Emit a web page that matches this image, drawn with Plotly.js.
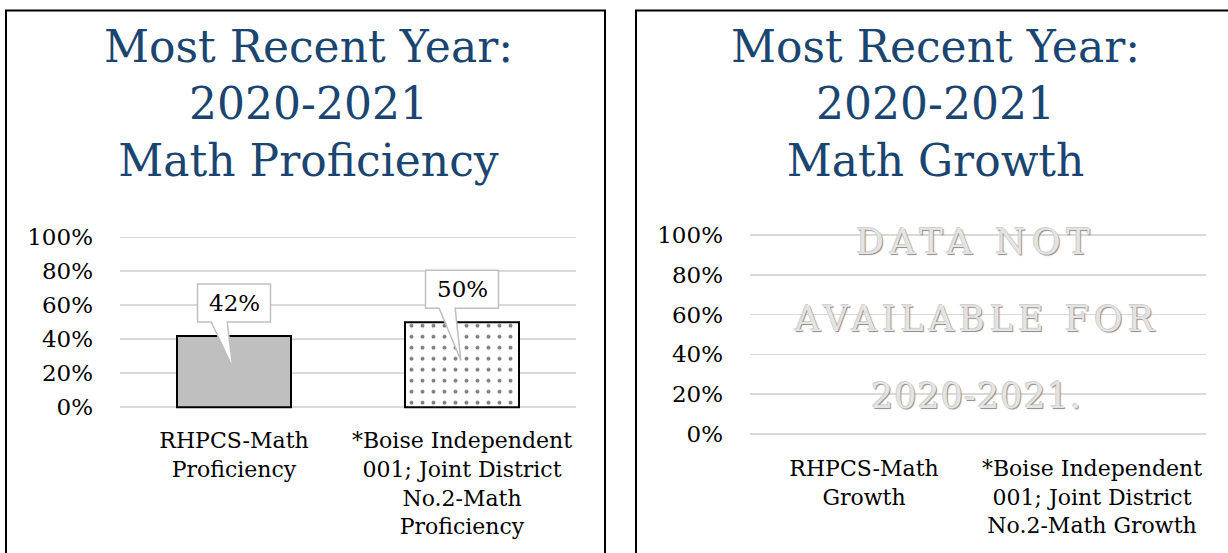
<!DOCTYPE html>
<html>
<head>
<meta charset="utf-8">
<script src="https://cdn.plot.ly/plotly-3.0.1.min.js"></script>
<style>
  html, body { margin: 0; padding: 0; background: #ffffff; }
  #chart { width: 1228px; height: 553px; }
</style>
</head>
<body>
<div id="chart"></div>
<script>
// ---------------- data ----------------
const titleProf = "Most Recent Year:<br>2020-2021<br>Math Proficiency";
const titleGrowth = "Most Recent Year:<br>2020-2021<br>Math Growth";

const categoriesProf = [
  "RHPCS-Math<br>Proficiency",
  "*Boise Independent<br>001; Joint District<br>No.2-Math<br>Proficiency"
];
const valuesProf = [0.42, 0.50];
const labelsProf = ["42%", "50%"];
const barColorsProf = ["#bfbfbf", "#ffffff"];
const barPatternsProf = ["", "."];

const categoriesGrowth = [
  "RHPCS-Math<br>Growth",
  "*Boise Independent<br>001; Joint District<br>No.2-Math Growth"
];
const valuesGrowth = [null, null];

const yTickVals = [0, 0.2, 0.4, 0.6, 0.8, 1.0];
const yTickText = ["0%", "20%", "40%", "60%", "80%", "100%"];

const noDataLines = ["DATA NOT", "AVAILABLE FOR", "2020-2021."];
const noDataSpacing = [6, 5, 1];

// ---------------- layout constants ----------------
const W = 1228, H = 553;
const FONT = "DejaVu Serif";
const TITLE_COLOR = "#1b4571";
const GRID = "#d9d9d9";
const PADR = 0.03; // range pad so the 0% and 100% gridlines are drawn

const idxProf = categoriesProf.map((_, i) => i);
const idxGrowth = categoriesGrowth.map((_, i) => i);

const traces = [];
valuesProf.forEach((v, i) => {
  traces.push({
    type: "bar",
    x: [idxProf[i]],
    y: [v],
    width: 0.5,
    xaxis: "x", yaxis: "y",
    marker: {
      color: barColorsProf[i],
      line: { color: "#000000", width: 2 },
      pattern: barPatternsProf[i] ? { shape: barPatternsProf[i], fgcolor: "#000000", bgcolor: barColorsProf[i],
                                      fillmode: "overlay", size: 11, solidity: 0.1 } : { shape: "" }
    },
    hoverinfo: "skip",
    showlegend: false
  });
});
traces.push({
  type: "bar",
  x: idxGrowth,
  y: valuesGrowth,
  width: 0.5,
  xaxis: "x2", yaxis: "y2",
  marker: { color: "#bfbfbf" },
  hoverinfo: "skip",
  showlegend: false
});

function xAxis(domain, cats, idx, anchor) {
  return {
    domain: domain,
    anchor: anchor,
    range: [-0.5, idx.length - 0.5],
    tickmode: "array",
    tickvals: idx,
    ticktext: cats,
    showgrid: false,
    zeroline: false,
    showline: false,
    ticks: "",
    ticklabelstandoff: 13,
    tickfont: { family: FONT, size: 22, color: "#000000" },
    fixedrange: true
  };
}
function yAxis(pix0, pix100, anchor) {
  const span = pix0 - pix100;
  const bottom = pix0 + PADR * span, top = pix100 - PADR * span;
  return {
    domain: [(H - bottom) / H, (H - top) / H],
    anchor: anchor,
    range: [-PADR, 1 + PADR],
    tickmode: "array",
    tickvals: yTickVals,
    ticktext: yTickText,
    showgrid: true,
    gridcolor: GRID,
    gridwidth: 1.6,
    zeroline: false,
    showline: false,
    ticks: "",
    ticklabelstandoff: 26,
    tickfont: { family: FONT, size: 23, color: "#000000" },
    fixedrange: true
  };
}

const xL = xAxis([120 / W, 576 / W], categoriesProf, idxProf, "y");
const yL = yAxis(407.3, 237.3, "x");
const xR = xAxis([750 / W, 1206 / W], categoriesGrowth, idxGrowth, "y2");
const yR = yAxis(434, 235, "x2");

// panel frames
const shapes = [
  { type: "rect", xref: "paper", yref: "paper", x0: 6 / W, x1: 605 / W, y0: -0.05, y1: (H - 10.5) / H,
    line: { color: "#000000", width: 2 }, fillcolor: "rgba(0,0,0,0)", layer: "below" },
  { type: "rect", xref: "paper", yref: "paper", x0: 636 / W, x1: 1.01, y0: -0.05, y1: (H - 10.5) / H,
    line: { color: "#000000", width: 2 }, fillcolor: "rgba(0,0,0,0)", layer: "below" }
];

// data callouts (box + pointer), positioned from the data values
const annotations = [];
valuesProf.forEach((v, i) => {
  const bx0 = i - 0.16, bx1 = i + 0.16;
  const by0 = v + 0.082, by1 = v + 0.306;
  const path = "M" + bx0 + "," + by1 +
    " L" + bx1 + "," + by1 +
    " L" + bx1 + "," + by0 +
    " L" + (i - 0.03) + "," + by0 +
    " L" + (i - 0.005) + "," + (v * 0.55) +
    " L" + (i - 0.10) + "," + by0 +
    " L" + bx0 + "," + by0 + " Z";
  shapes.push({ type: "path", xref: "x", yref: "y", path: path,
    fillcolor: "#ffffff", line: { color: "#bfbfbf", width: 1.5 }, layer: "above" });
  annotations.push({
    xref: "x", yref: "y", x: i, y: v + 0.194,
    text: labelsProf[i], showarrow: false,
    xanchor: "center", yanchor: "middle",
    font: { family: FONT, size: 23, color: "#000000" }
  });
});

// titles
annotations.push({
  xref: "paper", yref: "paper", x: 308 / W, y: (H - 104) / H,
  xanchor: "center", yanchor: "middle", showarrow: false,
  text: titleProf,
  font: { family: FONT, size: 44, color: TITLE_COLOR }
});
annotations.push({
  xref: "paper", yref: "paper", x: 935 / W, y: (H - 104) / H,
  xanchor: "center", yanchor: "middle", showarrow: false,
  text: titleGrowth,
  font: { family: FONT, size: 44, color: TITLE_COLOR }
});

// "no data" notice on the growth panel
const noDataY = [241.5, 318.5, 395.5];
noDataLines.forEach((t, k) => {
  annotations.push({
    xref: "paper", yref: "paper",
    x: 976 / W, y: (H - noDataY[k]) / H,
    xanchor: "center", yanchor: "middle", showarrow: false,
    text: '<span style="letter-spacing:' + noDataSpacing[k] + 'px">' + t + '</span>',
    font: { family: FONT, size: 35, color: "#e4e4e4",
            shadow: "1px 1px 1px #8a8a8a, -1px -1px 0px #d0d0d0" }
  });
});

const layout = {
  width: W, height: H,
  margin: { l: 0, r: 0, t: 0, b: 0, pad: 0 },
  paper_bgcolor: "#ffffff",
  plot_bgcolor: "rgba(0,0,0,0)",
  showlegend: false,
  barmode: "overlay",
  xaxis: xL, yaxis: yL,
  xaxis2: xR, yaxis2: yR,
  shapes: shapes,
  annotations: annotations
};

Plotly.newPlot("chart", traces, layout, { staticPlot: true, displayModeBar: false });
</script>
</body>
</html>
